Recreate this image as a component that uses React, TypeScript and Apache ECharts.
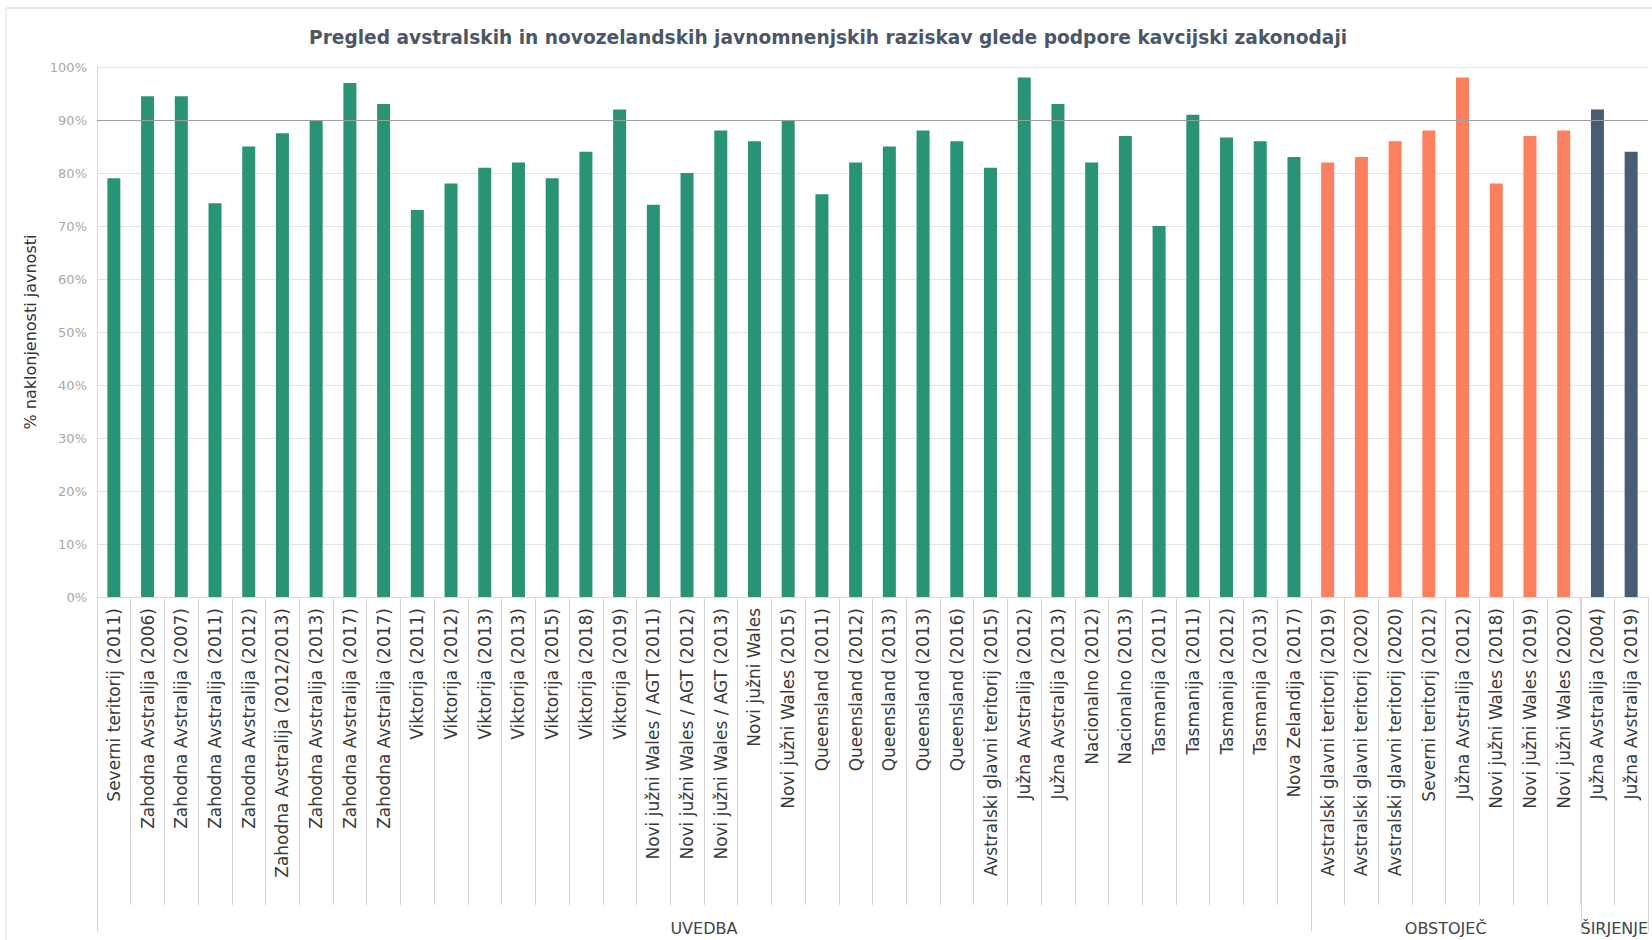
import React, { useEffect, useRef } from "react";
import * as echarts from "echarts";

const categories = [
  "Severni teritorij (2011)",
  "Zahodna Avstralija (2006)",
  "Zahodna Avstralija (2007)",
  "Zahodna Avstralija (2011)",
  "Zahodna Avstralija (2012)",
  "Zahodna Avstralija (2012/2013)",
  "Zahodna Avstralija (2013)",
  "Zahodna Avstralija (2017)",
  "Zahodna Avstralija (2017)",
  "Viktorija (2011)",
  "Viktorija (2012)",
  "Viktorija (2013)",
  "Viktorija (2013)",
  "Viktorija (2015)",
  "Viktorija (2018)",
  "Viktorija (2019)",
  "Novi južni Wales / AGT (2011)",
  "Novi južni Wales / AGT (2012)",
  "Novi južni Wales / AGT (2013)",
  "Novi južni Wales",
  "Novi južni Wales (2015)",
  "Queensland (2011)",
  "Queensland (2012)",
  "Queensland (2013)",
  "Queensland (2013)",
  "Queensland (2016)",
  "Avstralski glavni teritorij (2015)",
  "Južna Avstralija (2012)",
  "Južna Avstralija (2013)",
  "Nacionalno (2012)",
  "Nacionalno (2013)",
  "Tasmanija (2011)",
  "Tasmanija (2011)",
  "Tasmanija (2012)",
  "Tasmanija (2013)",
  "Nova Zelandija (2017)",
  "Avstralski glavni teritorij (2019)",
  "Avstralski glavni teritorij (2020)",
  "Avstralski glavni teritorij (2020)",
  "Severni teritorij (2012)",
  "Južna Avstralija (2012)",
  "Novi južni Wales (2018)",
  "Novi južni Wales (2019)",
  "Novi južni Wales (2020)",
  "Južna Avstralija (2004)",
  "Južna Avstralija (2019)",
];

const values = [
  79, 94.5, 94.5, 74.3, 85, 87.5, 90, 97, 93,
  73, 78, 81, 82, 79, 84, 92,
  74, 80, 88, 86, 90,
  76, 82, 85, 88, 86,
  81, 98, 93, 82, 87,
  70, 91, 86.7, 86, 83,
  82, 83, 86, 88, 98, 78, 87, 88,
  92, 84,
];

const groupNames = ["UVEDBA", "OBSTOJEČ", "ŠIRJENJE"];
const groupSizes = [36, 8, 2];
const groupColors = ["#289475", "#fc7f5e", "#475d73"];

const title =
  "Pregled avstralskih in novozelandskih javnomnenjskih raziskav glede podpore kavcijski zakonodaji";
const yAxisName = "% naklonjenosti javnosti";
const referenceValue = 90;

export default function App() {
  const ref = useRef<HTMLDivElement>(null);

  useEffect(() => {
    const chart = echarts.init(ref.current!, undefined, { renderer: "svg" });
    const groupOf: number[] = [];
    groupSizes.forEach((n, g) => {
      for (let i = 0; i < n; i++) groupOf.push(g);
    });

    const font = "DejaVu Sans";

    chart.setOption({
      animation: false,
      backgroundColor: "#ffffff",
      title: {
        text: title,
        left: 309,
        top: 28,
        padding: 0,
        textStyle: {
          fontFamily: font,
          fontSize: 18.6,
          fontWeight: "bold",
          color: "#4b5766",
        },
      },
      grid: { left: 97, right: 4, top: 67, bottom: 343 },
      xAxis: {
        type: "category",
        data: categories,
        axisLine: { show: true, lineStyle: { color: "#d9d9d9" } },
        axisTick: {
          show: true,
          interval: 0,
          length: 308,
          lineStyle: { color: "#d6d6d6" },
        },
        axisLabel: {
          interval: 0,
          rotate: 90,
          fontFamily: font,
          fontSize: 17,
          color: "#3a3a3a",
          margin: 11,
        },
      },
      yAxis: {
        type: "value",
        min: 0,
        max: 100,
        interval: 10,
        name: yAxisName,
        nameLocation: "middle",
        nameGap: 56,
        nameTextStyle: { fontFamily: font, fontSize: 16, color: "#333333" },
        axisLine: { show: true, lineStyle: { color: "#d9d9d9" } },
        axisTick: { show: false },
        axisLabel: {
          formatter: "{value}%",
          fontFamily: font,
          fontSize: 13,
          color: "#a8a8a8",
          margin: 10,
        },
        splitLine: { lineStyle: { color: "#e3e3e3" } },
      },
      series: [
        {
          type: "bar",
          barWidth: 13,
          data: values.map((v, i) => ({
            value: v,
            itemStyle: { color: groupColors[groupOf[i]] },
          })),
          markLine: {
            silent: true,
            symbol: ["none", "none"],
            label: { show: false },
            lineStyle: { color: "#9d9d9d", type: "solid", width: 1 },
            data: [{ yAxis: referenceValue }],
          },
        },
      ],
    });

    // group separators and group labels, positioned through the axis scale
    const c0 = chart.convertToPixel({ xAxisIndex: 0 }, 0) as number;
    const c1 = chart.convertToPixel({ xAxisIndex: 0 }, 1) as number;
    const bw = c1 - c0;
    const boundaryX = (b: number) => c0 + (b - 0.5) * bw;
    const y0 = chart.convertToPixel({ yAxisIndex: 0 }, 0) as number;

    const bounds: number[] = [0];
    groupSizes.forEach((n) => bounds.push(bounds[bounds.length - 1] + n));

    const elements: any[] = [
      {
        type: "line",
        shape: { x1: 6, y1: 8, x2: 1652, y2: 8 },
        style: { stroke: "#cfcfcf", lineWidth: 1 },
      },
      {
        type: "line",
        shape: { x1: 6, y1: 8, x2: 6, y2: 940 },
        style: { stroke: "#dedede", lineWidth: 1 },
      },
    ];
    bounds.forEach((b) => {
      const x = Math.round(boundaryX(b)) + 0.5;
      elements.push({
        type: "line",
        shape: { x1: x, y1: y0, x2: x, y2: 932 },
        style: { stroke: "#d6d6d6", lineWidth: 1 },
      });
    });
    groupNames.forEach((name, g) => {
      const mid = (boundaryX(bounds[g]) + boundaryX(bounds[g + 1])) / 2;
      elements.push({
        type: "text",
        x: mid,
        y: 928,
        style: {
          text: name,
          fontFamily: font,
          fontSize: 16,
          fill: "#444444",
          align: "center",
          verticalAlign: "middle",
        },
      });
    });
    chart.setOption({ graphic: { elements } });

    return () => chart.dispose();
  }, []);

  return (
    <div
      ref={ref}
      style={{ position: "fixed", left: 0, top: 0, width: 1652, height: 940 }}
    />
  );
}
